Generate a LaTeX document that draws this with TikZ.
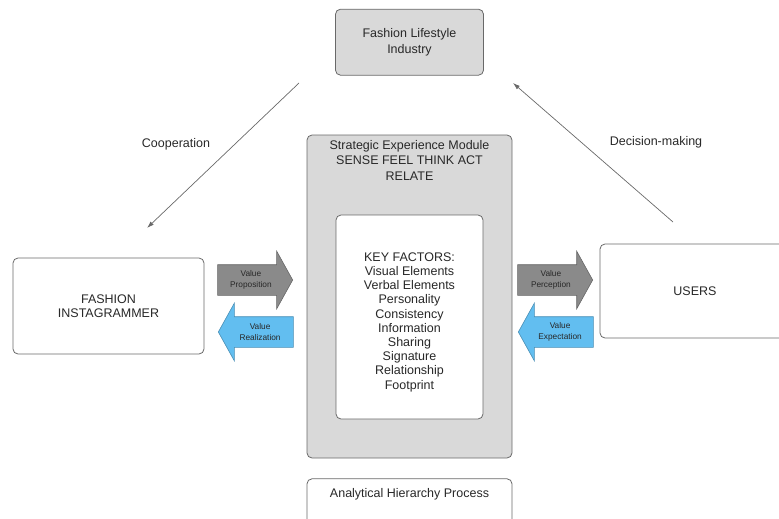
\documentclass[tikz,border=0pt]{standalone}
\usepackage{fontspec}
\setmainfont{Liberation Sans}
\usetikzlibrary{shapes.arrows,arrows.meta,positioning}

\definecolor{boxgray}{RGB}{217,217,217}
\definecolor{linegray}{RGB}{105,105,105}
\definecolor{textgray}{RGB}{40,40,40}
\definecolor{arrowgray}{RGB}{138,138,138}
\definecolor{arrowblue}{RGB}{98,190,240}

\tikzset{
  box/.style={draw=linegray, line width=0.8pt, rounded corners=5pt,
              fill=white, align=center, text=textgray},
  graybox/.style={box, fill=boxgray},
  valarrow/.style={single arrow, draw=#1!75!black, fill=#1, line width=0.6pt,
              single arrow head extend=13.5pt, single arrow tip angle=122,
              minimum height=75pt, inner sep=0pt, text=textgray,
              font=\fontsize{8.3}{11.5}\selectfont}
}

\begin{document}
\begin{tikzpicture}[x=1pt, y=-1pt, font=\fontsize{12.5}{15.5}\selectfont,
                    >={Latex[length=7pt,width=4.5pt]}]
  \clip (0,0) rectangle (779,519);

  \node (sem)
        [graybox, minimum width=205pt, minimum height=323pt]
        at (409.5,296.5) {};
  \node (semtitle)
        [align=center, text=textgray, below=2pt of sem.north]
        {Strategic Experience Module\\SENSE FEEL THINK ACT\\RELATE};
  \node (factors)
        [box, minimum width=147pt, minimum height=204pt, below=80pt of sem.north,
         font=\fontsize{12.5}{14.2}\selectfont]
        {\rule{0pt}{19pt}KEY FACTORS:\\Visual Elements\\Verbal Elements\\Personality\\Consistency\\Information\\Sharing\\Signature\\Relationship\\Footprint};
  \node (industry)
        [graybox, minimum width=148pt, minimum height=66pt, above=59pt of sem,
         font=\fontsize{12.5}{16.5}\selectfont]
        {Fashion Lifestyle\\Industry};
  \node (ahp)
        [box, minimum width=205pt, text height=9pt, text depth=35pt,
         inner ysep=10pt, below=20pt of sem]
        {Analytical Hierarchy Process};
  \node (insta)
        [box, minimum width=191pt, minimum height=96pt,
         font=\fontsize{12.5}{13.5}\selectfont]
        at (108.5,306) {FASHION\\INSTAGRAMMER};
  \node (users)
        [box, minimum width=190pt, minimum height=94pt]
        at (695,291) {USERS};

  \node (proposition)
        [valarrow=arrowgray, anchor=tip]
        at (293,280) {\parbox[c][30pt][c]{59pt}{\centering Value\\Proposition}};
  \node (realization)
        [valarrow=arrowblue, shape border rotate=180, anchor=tip]
        at (218,332) {\parbox[c][30pt][c]{59pt}{\centering Value\\Realization}};
  \node (perception)
        [valarrow=arrowgray, anchor=tip]
        at (593,280) {\parbox[c][30pt][c]{59pt}{\centering Value\\Perception}};
  \node (expectation)
        [valarrow=arrowblue, shape border rotate=180, anchor=tip]
        at (518,332) {\parbox[c][30pt][c]{59pt}{\centering Value\\Expectation}};

  \coordinate (coopfrom) at (299,83);
  \coordinate (coopto) at (147,228);
  \coordinate (decfrom) at (673,222);
  \coordinate (decto) at (513,83);
  \node (cooplabel) [text=textgray] at (176,144) {Cooperation};
  \node (declabel) [text=textgray] at (656,142) {Decision-making};

  \draw[->, draw=linegray, line width=0.7pt] (coopfrom) -- (coopto);
  \draw[->, draw=linegray, line width=0.7pt] (decfrom) -- (decto);
\end{tikzpicture}
\end{document}
